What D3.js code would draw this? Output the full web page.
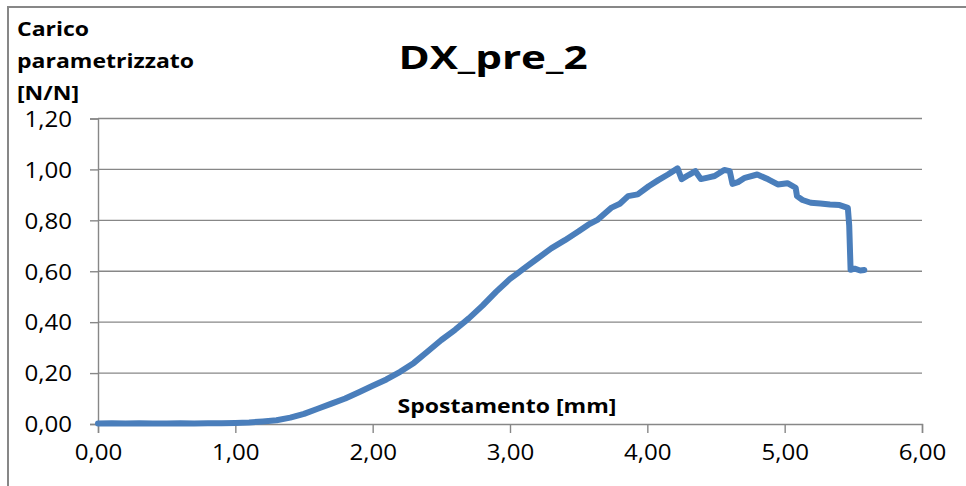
<!DOCTYPE html>
<html><head><meta charset="utf-8">
<script src="https://cdn.jsdelivr.net/npm/d3@7"></script>
<style>
html,body{margin:0;padding:0;background:#fff;overflow:hidden;}
svg{display:block;font-family:"Open Sans",Lato,sans-serif;}
</style></head>
<body><svg id="c" width="966" height="486"></svg>
<script>
const titleText = "DX_pre_2";
const yTitleLines = ["Carico", "parametrizzato", "[N/N]"];
const xTitleText = "Spostamento [mm]";
const xTicks = [0, 1, 2, 3, 4, 5, 6];
const yTicks = [0, 0.2, 0.4, 0.6, 0.8, 1.0, 1.2];
const dispX = [0.00,0.10,0.20,0.30,0.40,0.50,0.60,0.70,0.80,0.90,1.00,1.10,1.20,1.30,1.40,1.50,1.60,1.70,1.80,1.90,2.00,2.10,2.20,2.30,2.40,2.50,2.60,2.70,2.80,2.90,3.00,3.05,3.10,3.20,3.30,3.40,3.50,3.57,3.64,3.74,3.80,3.86,3.93,4.01,4.08,4.15,4.22,4.25,4.30,4.35,4.39,4.44,4.49,4.56,4.60,4.62,4.66,4.71,4.80,4.88,4.95,5.02,5.08,5.09,5.13,5.19,5.26,5.33,5.40,5.46,5.47,5.48,5.51,5.55,5.58];
const loadY = [0.002,0.003,0.002,0.003,0.002,0.002,0.003,0.002,0.003,0.003,0.004,0.006,0.010,0.015,0.025,0.040,0.060,0.080,0.100,0.125,0.150,0.175,0.205,0.240,0.285,0.330,0.370,0.415,0.465,0.520,0.570,0.590,0.610,0.650,0.690,0.722,0.757,0.783,0.803,0.850,0.865,0.895,0.902,0.934,0.958,0.980,1.004,0.962,0.978,0.993,0.962,0.968,0.974,0.998,0.993,0.943,0.950,0.967,0.980,0.961,0.941,0.946,0.928,0.895,0.880,0.869,0.866,0.862,0.860,0.849,0.780,0.606,0.610,0.603,0.605];

const svg = d3.select("#c");
const x = d3.scaleLinear().domain([0, 6]).range([98, 922]);
const y = d3.scaleLinear().domain([0, 1.2]).range([424, 118.5]);
const grey = "#878787";
const fmt = v => d3.format(".2f")(v).replace(".", ",");

// stretch text horizontally (reference text is wider than the available fonts)
function stretch(sel, k) {
  sel.each(function () {
    const w = this.getComputedTextLength();
    d3.select(this).attr("textLength", w * k).attr("lengthAdjust", "spacingAndGlyphs");
  });
}

// outer frame
svg.append("rect").attr("x", 8).attr("y", 7).attr("width", 990).attr("height", 520)
  .attr("fill", "none").attr("stroke", grey).attr("stroke-width", 2);

// gridlines
svg.append("g").selectAll("line").data(yTicks.filter(d => d > 0)).join("line")
  .attr("x1", x(0)).attr("x2", x(6)).attr("y1", d => y(d)).attr("y2", d => y(d))
  .attr("stroke", grey).attr("stroke-width", 1.4);

// y axis
const yAxis = svg.append("g").attr("transform", `translate(${x(0)},0)`)
  .call(d3.axisLeft(y).tickValues(yTicks).tickFormat(fmt).tickSize(8).tickPadding(18));
// x axis
const xAxis = svg.append("g").attr("transform", `translate(0,${y(0)})`)
  .call(d3.axisBottom(x).tickValues(xTicks).tickFormat(fmt).tickSize(9).tickPadding(12));
[yAxis, xAxis].forEach(a => {
  a.select(".domain").attr("stroke", grey).attr("stroke-width", 1.4);
  a.selectAll(".tick line").attr("stroke", grey).attr("stroke-width", 1.4);
  a.selectAll(".tick text").attr("fill", "#000").style("font-size", "21.5px").style("font-family", "'Open Sans', sans-serif");
  stretch(a.selectAll(".tick text"), 1.12);
});
yAxis.selectAll(".tick text").attr("dy", "0.36em");
xAxis.selectAll(".tick text").attr("dy", "0.71em");

// data line
const line = d3.line().x((d, i) => x(dispX[i])).y((d, i) => y(loadY[i]));
svg.append("path").datum(loadY).attr("d", line)
  .attr("fill", "none").attr("stroke", "#4a7ebb").attr("stroke-width", 6)
  .attr("stroke-linejoin", "round").attr("stroke-linecap", "round");

// title
const t = svg.append("text").attr("x", 493).attr("y", 69).attr("text-anchor", "middle")
  .style("font-size", "33px").style("font-weight", "bold").text(titleText);
stretch(t, 1.28);

// y title
const yt = svg.append("g").selectAll("text").data(yTitleLines).join("text")
  .attr("x", 17).attr("y", (d, i) => 36 + i * 32)
  .style("font-size", "19.5px").style("font-weight", "bold").text(d => d);
stretch(yt, 1.18);

// x title
const xt = svg.append("text").attr("x", 507).attr("y", 413).attr("text-anchor", "middle")
  .style("font-size", "19.5px").style("font-weight", "bold").text(xTitleText);
stretch(xt, 1.18);
</script></body></html>
